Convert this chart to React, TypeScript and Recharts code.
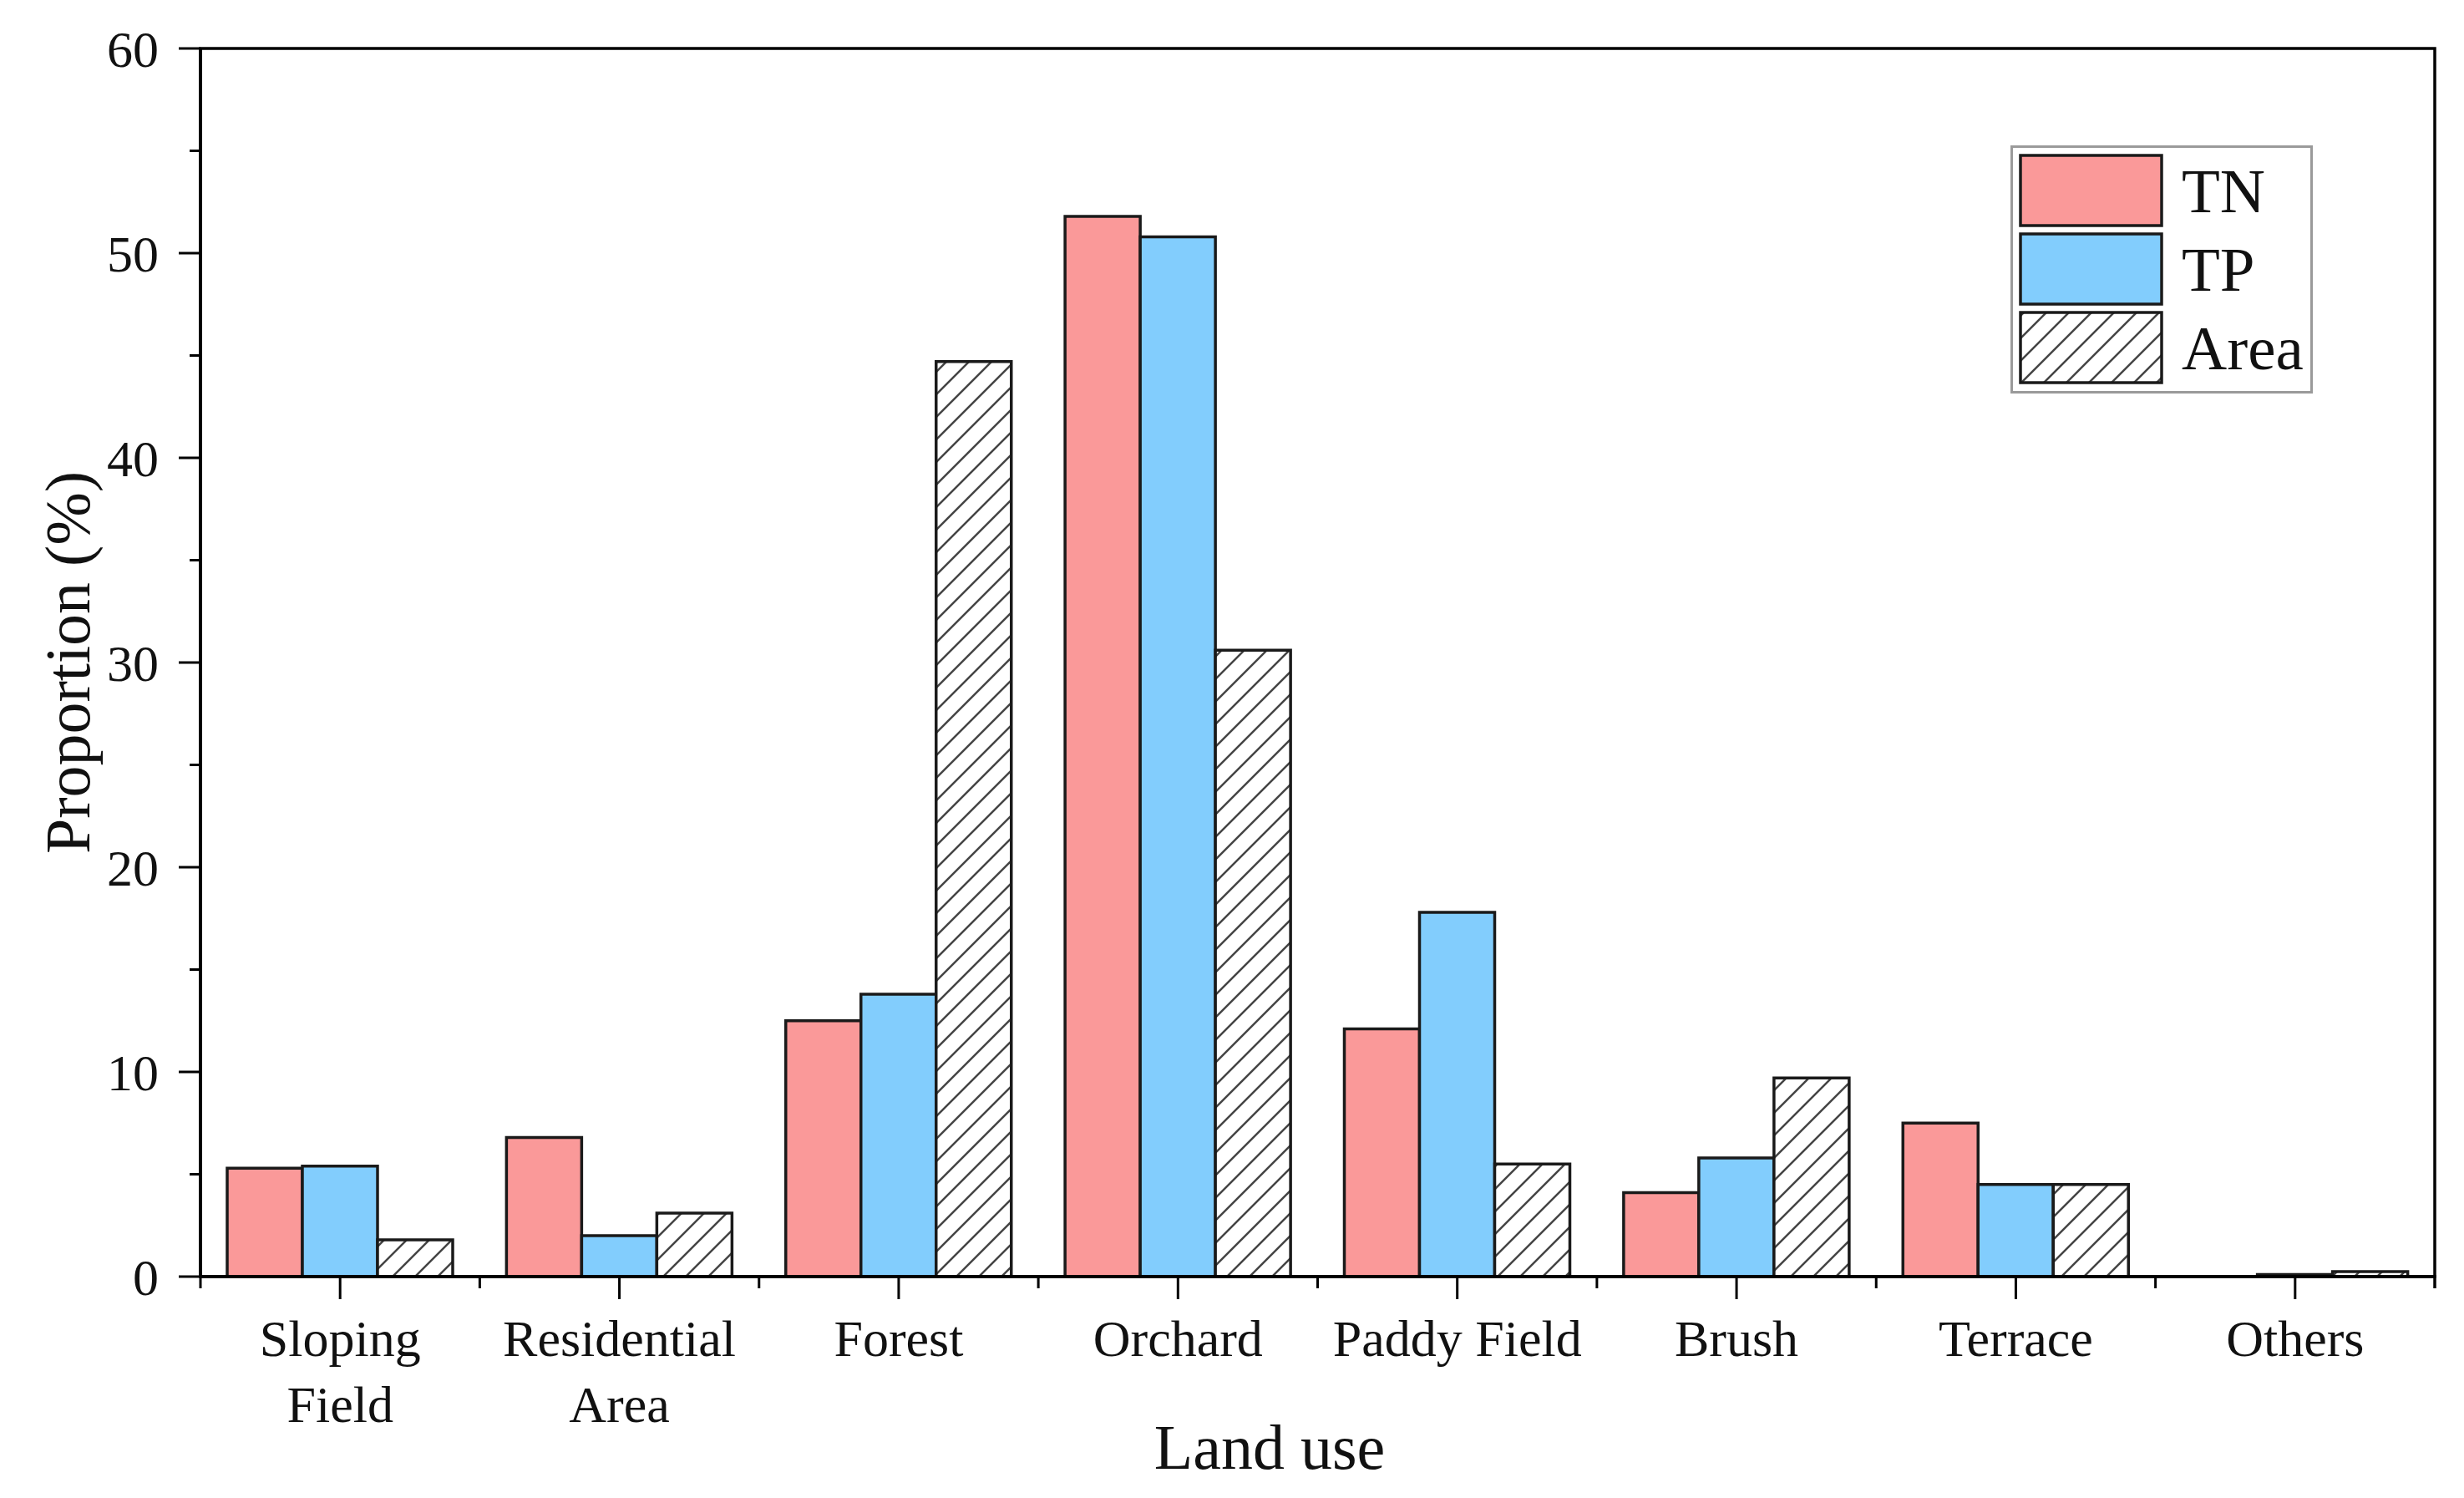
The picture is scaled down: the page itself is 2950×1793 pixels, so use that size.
import { Bar, BarChart, Label, Legend, ReferenceArea, XAxis, YAxis } from "recharts";

const landUse = ["Sloping\nField", "Residential\nArea", "Forest", "Orchard", "Paddy Field", "Brush", "Terrace", "Others"];
const tnValues = [5.3, 6.8, 12.5, 51.8, 12.1, 4.1, 7.5, 0];
const tpValues = [5.4, 2.0, 13.8, 50.8, 17.8, 5.8, 4.5, 0.1];
const areaValues = [1.8, 3.1, 44.7, 30.6, 5.5, 9.7, 4.5, 0.25];
const yTicks = [0, 5, 10, 15, 20, 25, 30, 35, 40, 45, 50, 55, 60];
const seriesNames = ["TN", "TP", "Area"];

const W = 2950;
const H = 1793;
const FONT = "'Liberation Serif', 'Times New Roman', serif";
const margin = { top: 58, right: 35, left: 100, bottom: 65 };
const Y_W = 140;
const PLOT_W = W - margin.left - margin.right - Y_W;
const BAND = PLOT_W / landUse.length;

const fills = ["#FA9999", "#82CDFD", "url(#hatch)"];

const data = landUse.map((name, i) => ({
  name,
  TN: tnValues[i],
  TP: tpValues[i],
  Area: areaValues[i],
}));

const YTick = (props: any) => {
  const { x, y, payload } = props;
  const major = payload.value % 10 === 0;
  return (
    <g>
      <line x1={x - (major ? 26 : 13)} x2={x} y1={y} y2={y} stroke="#000" strokeWidth={3} />
      {major && (
        <text x={x - 50} y={y} dy="0.35em" textAnchor="end" fontFamily={FONT} fontSize={62} fill="#111">
          {payload.value}
        </text>
      )}
    </g>
  );
};

const XTick = (props: any) => {
  const { x, y, payload, index } = props;
  const lines = String(payload.value).split("\n");
  const last = index === landUse.length - 1;
  return (
    <g>
      <line x1={x} x2={x} y1={y} y2={y + 27} stroke="#000" strokeWidth={3} />
      <line x1={x - BAND / 2} x2={x - BAND / 2} y1={y} y2={y + 14} stroke="#000" strokeWidth={3} />
      {last && <line x1={x + BAND / 2} x2={x + BAND / 2} y1={y - 2} y2={y + 14} stroke="#000" strokeWidth={3.5} />}
      <text textAnchor="middle" fontFamily={FONT} fontSize={62} fill="#111">
        {lines.map((l, i) => (
          <tspan key={i} x={x} y={y + 95 + i * 79}>
            {l}
          </tspan>
        ))}
      </text>
    </g>
  );
};

const LegendBox = () => (
  <svg width={362} height={297} style={{ display: "block" }}>
    <rect x={1.5} y={1.5} width={359} height={294} fill="#fff" stroke="#9a9a9a" strokeWidth={3} />
    {seriesNames.map((s, i) => (
      <g key={s}>
        <rect x={12} y={12 + i * 94} width={169} height={84} fill={fills[i]} stroke="#1a1a1a" strokeWidth={3.5} />
        <text x={205} y={80 + i * 94} fontFamily={FONT} fontSize={75} fill="#111">
          {s}
        </text>
      </g>
    ))}
  </svg>
);

export default function App() {
  return (
    <div style={{ position: "absolute", left: 0, top: 0, background: "#fff" }}>
      <BarChart width={W} height={H} data={data} margin={margin} barGap={0} barSize={90}>
        <defs>
          <pattern id="hatch" patternUnits="userSpaceOnUse" width="27" height="27">
            <rect width="27" height="27" fill="#fff" />
            <path d="M0,27 L27,0 M-7,7 L7,-7 M20,34 L34,20" stroke="#444" strokeWidth={2.5} />
          </pattern>
        </defs>
        <XAxis
          dataKey="name"
          interval={0}
          height={200}
          tickSize={0}
          tickMargin={0}
          tickLine={false}
          axisLine={{ stroke: "#000", strokeWidth: 4 }}
          tick={<XTick />}
        >
          <Label
            content={() => (
              <text x={1520} y={1758} textAnchor="middle" fontFamily={FONT} fontSize={76} fill="#111">
                Land use
              </text>
            )}
          />
        </XAxis>
        <YAxis
          domain={[0, 60]}
          ticks={yTicks}
          width={Y_W}
          tickSize={0}
          tickMargin={0}
          tickLine={false}
          interval={0}
          axisLine={{ stroke: "#000", strokeWidth: 4 }}
          tick={<YTick />}
        >
          <Label
            content={() => (
              <text
                x={80}
                y={793}
                transform="rotate(-90 80 793)"
                textAnchor="middle"
                dy="0.35em"
                fontFamily={FONT}
                fontSize={76}
                fill="#111"
              >
                Proportion (%)
              </text>
            )}
          />
        </YAxis>
        <ReferenceArea y1={0} y2={60} fill="none" fillOpacity={0} stroke="#000" strokeWidth={3.5} ifOverflow="visible" />
        <Legend
          layout="horizontal"
          verticalAlign="middle"
          align="center"
          wrapperStyle={{ left: 2407, top: 174, width: 362, height: 297 }}
          content={<LegendBox />}
        />
        {seriesNames.map((s, i) => (
          <Bar key={s} dataKey={s} fill={fills[i]} stroke="#1a1a1a" strokeWidth={3.5} isAnimationActive={false} />
        ))}
      </BarChart>
    </div>
  );
}
